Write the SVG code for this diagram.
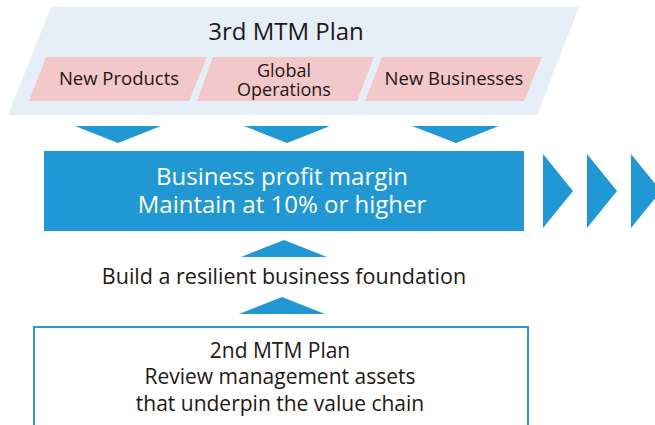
<svg xmlns="http://www.w3.org/2000/svg" width="655" height="425" viewBox="0 0 655 425">
<style>
.t{font-family:"Open Sans","Noto Sans","Liberation Sans",sans-serif;fill:#231815;text-anchor:middle}
.w{fill:#ffffff}
.blue{fill:#2198d3}
.pink{fill:#f2c8ca}
</style>
<rect width="655" height="425" fill="#ffffff"/>
<g id="plan3">
<polygon points="51,7 579,7 537,115 8,115" fill="#e6eef8"/>
<text class="t" x="286" y="40" font-size="24">3rd MTM Plan</text>
</g>
<g id="newProducts">
<polygon class="pink" points="46,57 207,57 189,101 29,101"/>
<text class="t" x="119" y="85" font-size="18.5">New Products</text>
</g>
<g id="globalOps">
<polygon class="pink" points="213,57 374,57 357,101 197,101"/>
<text class="t" x="284" y="77" font-size="18">Global</text>
<text class="t" x="284" y="96" font-size="18">Operations</text>
</g>
<g id="newBusinesses">
<polygon class="pink" points="382,57 542,57 524,101 365,101"/>
<text class="t" x="454" y="85" font-size="18.5">New Businesses</text>
</g>
<g id="profit">
<rect class="blue" x="44" y="151" width="480" height="80"/>
<text class="t w" x="282" y="185" font-size="24">Business profit margin</text>
<text class="t w" x="282" y="213" font-size="24">Maintain at 10% or higher</text>
</g>
<g id="foundation">
<text class="t" x="284" y="284" font-size="21.5">Build a resilient business foundation</text>
</g>
<g id="plan2">
<rect x="34" y="327" width="494" height="110" fill="#ffffff" stroke="#2a9bd5" stroke-width="2"/>
<text class="t" x="280" y="358" font-size="21">2nd MTM Plan</text>
<text class="t" x="280" y="384" font-size="21">Review management assets</text>
<text class="t" x="280" y="411" font-size="21">that underpin the value chain</text>
</g>
<g id="connectors">
<polygon class="blue" points="75,126 161,126 118,143"/>
<polygon class="blue" points="244,126 330,126 287,143"/>
<polygon class="blue" points="412,126 499,126 456,143"/>
<polygon class="blue" points="241,257 327,257 284,240"/>
<polygon class="blue" points="239,314 325,314 282,297"/>
<polygon class="blue" points="543,154 573,191 543,228"/>
<polygon class="blue" points="587,154 617,191 587,228"/>
<polygon class="blue" points="631,154 661,191 631,228"/>
</g>
</svg>
